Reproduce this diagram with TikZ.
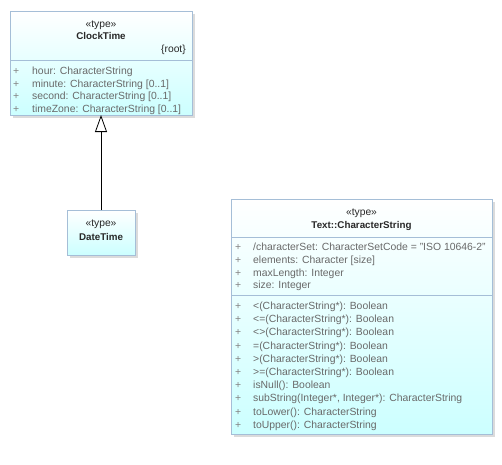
\documentclass[tikz,border=0pt]{standalone}
\usepackage{fontspec}
\setmainfont{Liberation Sans}
\usetikzlibrary{arrows.meta,shadows}
\definecolor{umlborder}{RGB}{165,190,215}
\definecolor{umlfill}{RGB}{204,255,255}
\definecolor{umltext}{RGB}{105,105,105}
\definecolor{umlplus}{RGB}{130,130,130}
\definecolor{umlname}{RGB}{40,40,40}
\tikzset{
	classbox/.style={draw=umlborder, line width=0.8pt, top color=white, bottom color=umlfill,
		anchor=north west, inner sep=0pt, outer sep=0pt,
		drop shadow={shadow xshift=3pt, shadow yshift=-3pt, fill=black!14, opacity=1}},
	stereo/.style={anchor=base, text=umlname, font=\fontsize{10.3}{12}\selectfont, inner sep=0pt},
	cname/.style={anchor=base, text=umlname, font=\fontsize{9.8}{12}\selectfont\bfseries, inner sep=0pt},
	member/.style={anchor=base west, text=umltext, font=\fontsize{10.4}{12}\selectfont, inner sep=0pt},
	plus/.style={member, text=umlplus},
	sep/.style={draw=umlborder, line width=0.8pt},
	generalization/.style={-{Triangle[open, length=17pt, width=12pt]}, line width=0.8pt, black}
}
\begin{document}
\begin{tikzpicture}[x=1pt, y=-1pt]
	\useasboundingbox (0,0) rectangle (502,464);

	% ClockTime
	\node[classbox, minimum width=182pt, minimum height=104pt] (clock) at (10,11) {};
	\node[stereo] (clockst) at (101,27.5) {«type»};
	\node[cname] (clockname) at (101,39.5) {ClockTime};
	\node[stereo, anchor=base east] (clockroot) at (186,52.5) {\{root\}};
	\draw[sep] (clock.west |- 0,60) -- (clock.east |- 0,60);
	\foreach \a [count=\i] in {hour: CharacterString, minute: CharacterString [0..1],
		second: CharacterString [0..1], timeZone: CharacterString [0..1]} {
		\node[plus] (clockp\i) at (13,{62+12.5*\i}) {+};
		\node[member] (clocka\i) at (32,{62+12.5*\i}) {\a};
	}

	% DateTime
	\node[classbox, minimum width=68pt, minimum height=45pt] (date) at (67,210) {};
	\node[stereo] (datest) at (101,226.5) {«type»};
	\node[cname] (datename) at (101,240.5) {DateTime};

	\draw[generalization] (date.north) -- (clock.south);

	% Text::CharacterString
	\node[classbox, minimum width=261pt, minimum height=235pt] (str) at (231,199) {};
	\node[stereo] (strst) at (361.5,215.5) {«type»};
	\node[cname] (strname) at (361.5,228) {Text::CharacterString};
	\draw[sep] (str.west |- 0,237) -- (str.east |- 0,237);
	\foreach \a [count=\i] in {/characterSet: CharacterSetCode = "ISO 10646-2",
		elements: Character [size], maxLength: Integer, size: Integer} {
		\node[plus] (strp\i) at (235,{237.7+12.8*\i}) {+};
		\node[member] (stra\i) at (253,{237.7+12.8*\i}) {\a};
	}
	\draw[sep] (str.west |- 0,295) -- (str.east |- 0,295);
	\foreach \o [count=\i] in {<(CharacterString*): Boolean, <=(CharacterString*): Boolean,
		<>(CharacterString*): Boolean, =(CharacterString*): Boolean,
		>(CharacterString*): Boolean, >=(CharacterString*): Boolean, isNull(): Boolean,
		{subString(Integer*, Integer*): CharacterString}, toLower(): CharacterString,
		toUpper(): CharacterString} {
		\node[plus] (stro\i) at (235,{296.3+13.2*\i}) {+};
		\node[member] (strop\i) at (253,{296.3+13.2*\i}) {\o};
	}
\end{tikzpicture}
\end{document}
